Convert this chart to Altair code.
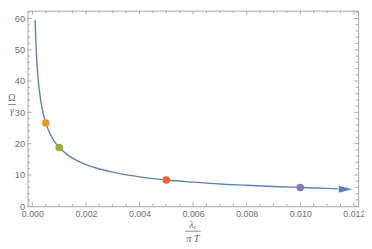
import altair as alt
import pandas as pd

# curve values
curve_x = [0.0001, 0.00015, 0.0002, 0.0003, 0.0004, 0.0005, 0.0006, 0.0008, 0.001,
           0.0013, 0.0016, 0.002, 0.0025, 0.003, 0.004, 0.005, 0.006, 0.007,
           0.008, 0.009, 0.010, 0.011, 0.0114]
curve_y = [59.5, 48.6, 42.1, 34.4, 29.8, 26.6, 24.3, 21.0, 18.8,
           16.5, 14.9, 13.3, 11.9, 10.9, 9.4, 8.4, 7.7, 7.1,
           6.7, 6.3, 6.0, 5.7, 5.57]

# highlighted points
pt_x = [0.0005, 0.001, 0.005, 0.010]
pt_y = [26.6, 18.8, 8.4, 6.0]
pt_name = ["a", "b", "c", "d"]
pt_colors = ["#E19C24", "#8FB032", "#EB6235", "#8778B3"]

# arrow head at end of curve
arrow_x = [0.01169]
arrow_y = [5.42]

# ticks
x_major = [0.0, 0.002, 0.004, 0.006, 0.008, 0.010, 0.012]
x_minor = [0.0005, 0.001, 0.0015, 0.0025, 0.003, 0.0035, 0.0045, 0.005, 0.0055,
           0.0065, 0.007, 0.0075, 0.0085, 0.009, 0.0095, 0.0105, 0.011, 0.0115]
y_major = [0, 10, 20, 30, 40, 50, 60]
y_minor = [2, 4, 6, 8, 12, 14, 16, 18, 22, 24, 26, 28, 32, 34, 36, 38,
           42, 44, 46, 48, 52, 54, 56, 58, 62]

x_title_top = ["λₑ"]
x_title_bottom = ["π T"]
y_title_top = ["Ω"]
y_title_bottom = ["γ"]

W, H = 338, 200
XDOM = [-0.00018, 0.01216]
YDOM = [0, 62.5]
FRAME = "#a8a8a8"
LABEL = "#6e6e6e"
BLUE = "#5E81B5"

xs = alt.Scale(domain=XDOM, nice=False, zero=False)
ys = alt.Scale(domain=YDOM, nice=False, zero=False)

AX = alt.Axis(values=x_major, format=".3f", ticks=False, domain=False, grid=False, title=None,
              labelPadding=3, labelFlush=False, labelOverlap=False, labelBound=False,
              labelColor=LABEL, labelFont="Liberation Sans", labelFontSize=9)
AY = alt.Axis(values=y_major, ticks=False, domain=False, grid=False, title=None,
              labelPadding=3, labelFlush=False, labelOverlap=False, labelBound=False,
              labelColor=LABEL, labelFont="Liberation Sans", labelFontSize=9.5)

def X(f):
    return alt.X(f, type="quantitative", scale=xs, axis=AX, title=None)

def Y(f):
    return alt.Y(f, type="quantitative", scale=ys, axis=AY, title=None)

curve_df = pd.DataFrame({"x": curve_x, "y": curve_y})
pts_df = pd.DataFrame({"x": pt_x, "y": pt_y, "n": pt_name})
arrow_df = pd.DataFrame({"x": arrow_x, "y": arrow_y})
xmaj_df = pd.DataFrame({"x": x_major})
xmin_df = pd.DataFrame({"x": x_minor})
ymaj_df = pd.DataFrame({"y": y_major})
ymin_df = pd.DataFrame({"y": y_minor})

curve = alt.Chart(curve_df).mark_line(color=BLUE, strokeWidth=1.4, interpolate="monotone").encode(
    x=X("x"), y=Y("y"))

arrow = alt.Chart(arrow_df).mark_point(
    shape="M-1,-0.5L1,0L-1,0.5Z", filled=True, color=BLUE, opacity=1, size=196
).encode(x=X("x"), y=Y("y"))

points = alt.Chart(pts_df).mark_circle(size=60, opacity=1).encode(
    x=X("x"), y=Y("y"),
    color=alt.Color("n:N", scale=alt.Scale(domain=pt_name, range=pt_colors), legend=None),
)

def xticks(df, length):
    b = alt.Chart(df).mark_rule(color=FRAME, strokeWidth=1).encode(
        x=X("x"), y=alt.value(H), y2=alt.value(H - length))
    t = alt.Chart(df).mark_rule(color=FRAME, strokeWidth=1).encode(
        x=X("x"), y=alt.value(0), y2=alt.value(length))
    return b + t

def yticks(df, length):
    l = alt.Chart(df).mark_rule(color=FRAME, strokeWidth=1).encode(
        y=Y("y"), x=alt.value(0), x2=alt.value(length))
    r = alt.Chart(df).mark_rule(color=FRAME, strokeWidth=1).encode(
        y=Y("y"), x=alt.value(W), x2=alt.value(W - length))
    return l + r

ticks = xticks(xmaj_df, 4) + xticks(xmin_df, 2.5) + yticks(ymaj_df, 4) + yticks(ymin_df, 2.5)

def label(txt, x, y, italic=True, size=10.5):
    return alt.Chart(pd.DataFrame({"t": txt})).mark_text(
        font="Liberation Serif", fontSize=size, color=LABEL,
        fontStyle="italic" if italic else "normal", align="center", baseline="middle"
    ).encode(text="t:N", x=alt.value(x), y=alt.value(y))

frac_x = (
    label(x_title_top, 169, 219)
    + alt.Chart(pd.DataFrame({"d": [0]})).mark_rule(color=LABEL, strokeWidth=0.8).encode(
        x=alt.value(161), x2=alt.value(177), y=alt.value(225.5))
    + label(x_title_bottom, 169, 233.5)
)
frac_y = (
    label(y_title_top, -16, 89, italic=False)
    + alt.Chart(pd.DataFrame({"d": [0]})).mark_rule(color=LABEL, strokeWidth=0.8).encode(
        x=alt.value(-20), x2=alt.value(-12), y=alt.value(96))
    + label(y_title_bottom, -16, 103)
)

chart = alt.layer(ticks, curve, arrow, points, frac_x, frac_y).properties(
    width=W, height=H,
    autosize=alt.AutoSizeParams(type="none"),
    padding={"left": 20, "top": 0, "right": 6, "bottom": 41},
).configure_view(stroke=FRAME, strokeWidth=1)

chart.save("out.html", embed_options={"renderer": "svg", "actions": False})
